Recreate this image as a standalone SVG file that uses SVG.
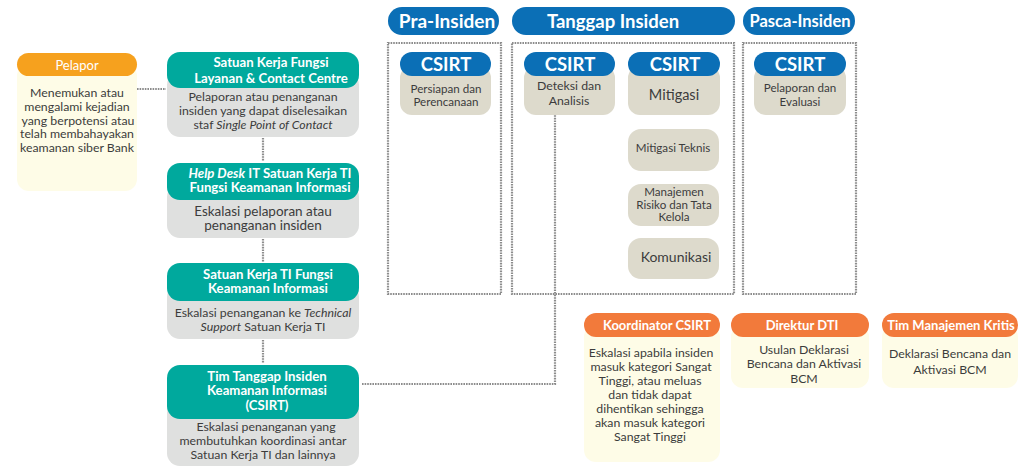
<svg xmlns="http://www.w3.org/2000/svg" width="1034" height="466" viewBox="0 0 1034 466">
  <style>
    text { font-family: Lato, "Liberation Sans", sans-serif; text-anchor: middle; }
    .hd { fill: #ffffff; font-weight: bold; font-size: 13.2px; }
    .hdo { fill: #ffffff; font-weight: bold; font-size: 13px; }
    .hdb { fill: #ffffff; font-weight: bold; font-size: 18.5px; }
    .cs { fill: #ffffff; font-weight: bold; font-size: 18.5px; }
    .tx { fill: #3c3c3c; font-size: 12.3px; }
    .sm { fill: #3c3c3c; font-size: 11.6px; }
    .md { fill: #3c3c3c; font-size: 14.5px; }
    .teal { fill: #00A99D; }
    .gray { fill: #DFE0DF; }
    .blue { fill: #0B6FB6; }
    .beige { fill: #DDDACC; }
    .cream { fill: #FEFCE7; }
    .orange { fill: #F27A3B; }
    .amber { fill: #F6A11E; }
    .dot { fill: none; stroke: #8C8C8C; stroke-width: 2.2; stroke-dasharray: 1.6 1; }
  </style>

  <!-- phase frames and connectors -->
  <g id="connectors">
    <rect class="dot" x="388" y="43" width="113" height="251"/>
    <rect class="dot" x="512" y="43" width="222" height="251"/>
    <rect class="dot" x="743" y="43" width="113" height="251"/>
    <path class="dot" d="M137 89 H166"/>
    <path class="dot" d="M263 138 V161"/>
    <path class="dot" d="M263 239 V262"/>
    <path class="dot" d="M263 340 V363"/>
    <path class="dot" d="M362 384 H555 V115"/>
  </g>

  <!-- reporter -->
  <g id="pelapor">
    <rect class="cream" x="17" y="64" width="120" height="127" rx="12"/>
    <rect class="amber" x="17" y="53" width="120" height="23" rx="11.5"/>
    <text x="77" y="69.5" style="fill:#fff;font-size:13px">Pelapor</text>
    <text class="tx" x="77" y="97">Menemukan atau</text>
    <text class="tx" x="77" y="111">mengalami kejadian</text>
    <text class="tx" x="78" y="125">yang berpotensi atau</text>
    <text class="tx" x="77" y="138">telah membahayakan</text>
    <text class="tx" x="77" y="152">keamanan siber Bank</text>
  </g>

  <!-- escalation chain -->
  <g id="layanan">
    <rect class="gray" x="167" y="72" width="192" height="65" rx="13"/>
    <rect class="teal" x="167" y="52" width="192" height="36" rx="13"/>
    <text class="hd" x="271" y="67">Satuan Kerja Fungsi</text>
    <text class="hd" x="271" y="83">Layanan &amp; Contact Centre</text>
    <text class="tx" x="263" y="101">Pelaporan atau penanganan</text>
    <text class="tx" x="263" y="115">insiden yang dapat diselesaikan</text>
    <text class="tx" x="263" y="129">staf <tspan font-style="italic">Single Point of Contact</tspan></text>
  </g>

  <g id="helpdesk">
    <rect class="gray" x="167" y="184" width="192" height="54" rx="13"/>
    <rect class="teal" x="167" y="163" width="192" height="37" rx="13"/>
    <text class="hd" x="270" y="178"><tspan font-style="italic">Help Desk</tspan> IT Satuan Kerja TI</text>
    <text class="hd" x="270" y="192">Fungsi Keamanan Informasi</text>
    <text class="tx" x="263" y="216" style="font-size:13.5px">Eskalasi pelaporan atau</text>
    <text class="tx" x="263" y="230" style="font-size:13.5px">penanganan insiden</text>
  </g>

  <g id="satuan-ti">
    <rect class="gray" x="167" y="284" width="192" height="55" rx="13"/>
    <rect class="teal" x="167" y="263" width="192" height="38" rx="13"/>
    <text class="hd" x="268" y="279">Satuan Kerja TI Fungsi</text>
    <text class="hd" x="268" y="293">Keamanan Informasi</text>
    <text class="tx" x="263" y="317">Eskalasi penanganan ke <tspan font-style="italic">Technical</tspan></text>
    <text class="tx" x="263" y="331"><tspan font-style="italic">Support</tspan>  Satuan Kerja TI</text>
  </g>

  <g id="csirt-team">
    <rect class="gray" x="167" y="400" width="192" height="66" rx="13"/>
    <rect class="teal" x="167" y="365" width="192" height="54" rx="13"/>
    <text class="hd" x="267" y="381">Tim Tanggap Insiden</text>
    <text class="hd" x="267" y="395">Keamanan Informasi</text>
    <text class="hd" x="267" y="410">(CSIRT)</text>
    <text class="tx" x="266" y="431">Eskalasi penanganan yang</text>
    <text class="tx" x="263" y="445">membutuhkan koordinasi antar</text>
    <text class="tx" x="263" y="459">Satuan Kerja TI dan lainnya</text>
  </g>

  <!-- phase headers -->
  <g id="pra-insiden">
    <rect class="blue" x="388" y="7" width="111" height="28" rx="14"/>
    <text class="hdb" x="447" y="27.5" style="font-size:19px">Pra-Insiden</text>
  </g>
  <g id="tanggap-insiden">
    <rect class="blue" x="512" y="7" width="223" height="28" rx="14"/>
    <text class="hdb" x="613" y="27.5">Tanggap Insiden</text>
  </g>
  <g id="pasca-insiden">
    <rect class="blue" x="743" y="7" width="112" height="28" rx="14"/>
    <text class="hdb" x="800" y="27" style="font-size:16.5px">Pasca-Insiden</text>
  </g>

  <!-- CSIRT activities -->
  <g id="persiapan">
    <rect class="beige" x="400" y="66" width="91" height="49" rx="12"/>
    <rect class="blue" x="400" y="52" width="91" height="24" rx="12"/>
    <text class="cs" x="446" y="70.5">CSIRT</text>
    <text class="sm" x="446" y="93">Persiapan dan</text>
    <text class="sm" x="446" y="106">Perencanaan</text>
  </g>
  <g id="deteksi">
    <rect class="beige" x="524" y="66" width="91" height="49" rx="12"/>
    <rect class="blue" x="524" y="52" width="91" height="24" rx="12"/>
    <text class="cs" x="570" y="70.5">CSIRT</text>
    <text class="sm" x="569" y="90" style="font-size:12.3px">Deteksi dan</text>
    <text class="sm" x="569" y="105" style="font-size:12.3px">Analisis</text>
  </g>
  <g id="mitigasi">
    <rect class="beige" x="628" y="66" width="92" height="49" rx="12"/>
    <rect class="blue" x="628" y="52" width="92" height="24" rx="12"/>
    <text class="cs" x="675" y="70.5">CSIRT</text>
    <text class="md" x="674" y="100">Mitigasi</text>
  </g>
  <g id="mitigasi-teknis">
    <rect class="beige" x="628" y="129" width="91" height="42" rx="13"/>
    <text class="sm" x="673" y="152">Mitigasi Teknis</text>
  </g>
  <g id="manajemen-risiko">
    <rect class="beige" x="628" y="184" width="91" height="42" rx="13"/>
    <text class="sm" x="674" y="196">Manajemen</text>
    <text class="sm" x="674" y="209">Risiko dan Tata</text>
    <text class="sm" x="674" y="221">Kelola</text>
  </g>
  <g id="komunikasi">
    <rect class="beige" x="628" y="238" width="91" height="41" rx="13"/>
    <text class="md" x="676" y="262" style="font-size:14px">Komunikasi</text>
  </g>
  <g id="evaluasi">
    <rect class="beige" x="754" y="66" width="92" height="49" rx="12"/>
    <rect class="blue" x="754" y="52" width="92" height="24" rx="12"/>
    <text class="cs" x="800" y="70.5">CSIRT</text>
    <text class="sm" x="800" y="92">Pelaporan dan</text>
    <text class="sm" x="800" y="106">Evaluasi</text>
  </g>

  <!-- escalation decision-makers -->
  <g id="koordinator">
    <rect class="cream" x="584" y="325" width="136" height="137" rx="12"/>
    <rect class="orange" x="584" y="313" width="136" height="24" rx="12"/>
    <text class="hdo" x="657" y="330">Koordinator CSIRT</text>
    <text class="tx" x="651" y="357">Eskalasi apabila insiden</text>
    <text class="tx" x="651" y="371">masuk kategori Sangat</text>
    <text class="tx" x="650" y="385">Tinggi, atau meluas</text>
    <text class="tx" x="650" y="399">dan tidak dapat</text>
    <text class="tx" x="650" y="413">dihentikan sehingga</text>
    <text class="tx" x="650" y="427">akan masuk kategori</text>
    <text class="tx" x="650" y="441">Sangat Tinggi</text>
  </g>
  <g id="direktur">
    <rect class="cream" x="731" y="325" width="138" height="63" rx="12"/>
    <rect class="orange" x="731" y="313" width="138" height="24" rx="12"/>
    <text class="hdo" x="802" y="330">Direktur DTI</text>
    <text class="tx" x="804" y="354">Usulan Deklarasi</text>
    <text class="tx" x="804" y="368">Bencana dan Aktivasi</text>
    <text class="tx" x="804" y="383">BCM</text>
  </g>
  <g id="manajemen-krisis">
    <rect class="cream" x="882" y="325" width="136" height="63" rx="12"/>
    <rect class="orange" x="882" y="313" width="136" height="24" rx="12"/>
    <text class="hdo" x="951" y="330">Tim Manajemen Kritis</text>
    <text class="tx" x="950" y="358">Deklarasi Bencana dan</text>
    <text class="tx" x="950" y="374">Aktivasi BCM</text>
  </g>
</svg>
